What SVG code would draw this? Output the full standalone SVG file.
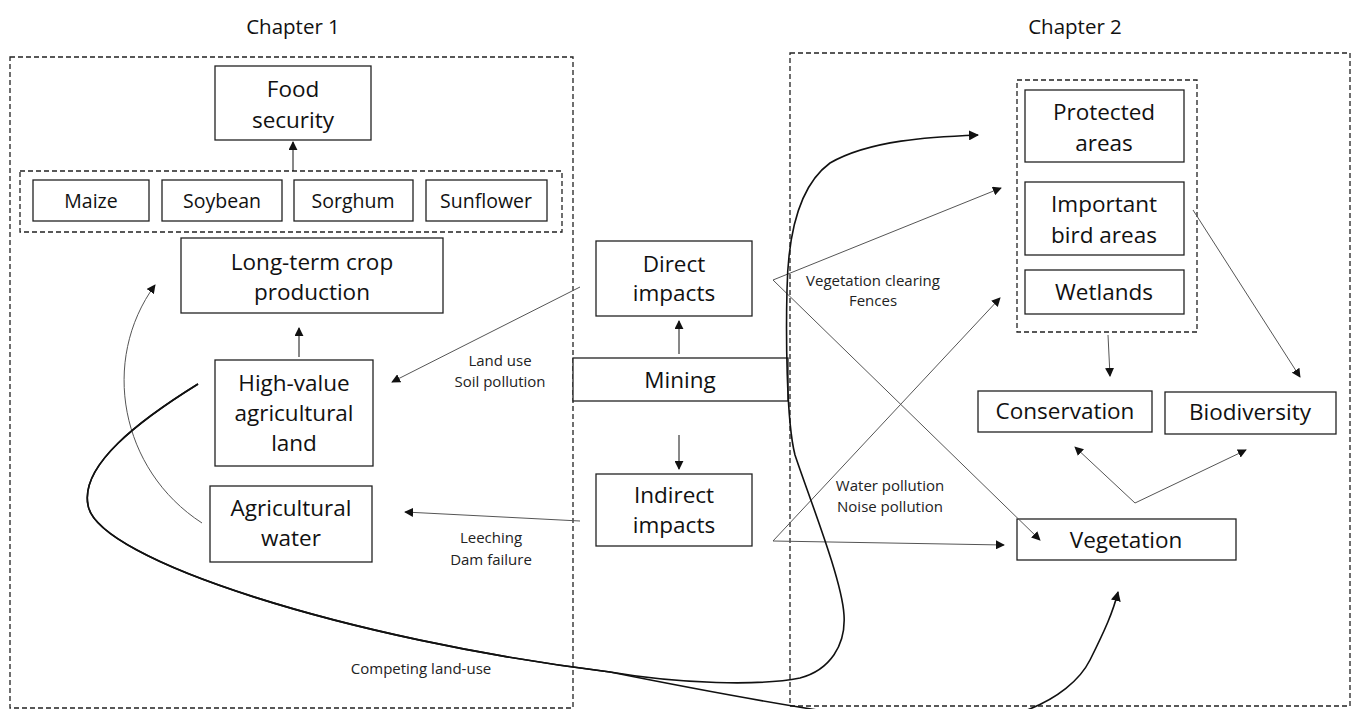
<svg xmlns="http://www.w3.org/2000/svg" width="1355" height="709" viewBox="0 0 1355 709">
<defs>
<style>
.box{fill:#fff;stroke:#222;stroke-width:1.3}
.dash{fill:none;stroke:#222;stroke-width:1.3;stroke-dasharray:5,3}
.t{font-family:"Open Sans","Liberation Sans",sans-serif;font-size:22.5px;fill:#111;text-anchor:middle}
.s{font-family:"Open Sans","Liberation Sans",sans-serif;font-size:19.5px;fill:#111;text-anchor:middle}
.l{font-family:"Open Sans","Liberation Sans",sans-serif;font-size:15px;fill:#222;text-anchor:middle}
.h{font-family:"Open Sans","Liberation Sans",sans-serif;font-size:20.5px;fill:#111;text-anchor:middle}
.thin{fill:none;stroke:#555;stroke-width:1}
.blk{fill:none;stroke:#111;stroke-width:1}
.thick{fill:none;stroke:#111;stroke-width:1.6}
</style>
<marker id="a" viewBox="0 0 10 10" refX="9" refY="5" markerWidth="9" markerHeight="9" markerUnits="userSpaceOnUse" orient="auto"><path d="M0,0 L10,5 L0,10 z" fill="#111"/></marker>
<marker id="b" viewBox="0 0 10 10" refX="9" refY="5" markerWidth="10" markerHeight="10" markerUnits="userSpaceOnUse" orient="auto"><path d="M0,0 L10,5 L0,10 z" fill="#111"/></marker>
</defs>
<rect width="1355" height="709" fill="#fff"/>

<g id="chapter1">
<rect class="dash" x="10" y="57" width="563" height="651"/>
<text class="h" x="293" y="34">Chapter 1</text>
</g>
<g id="chapter2">
<rect class="dash" x="790" y="53" width="560" height="653"/>
<text class="h" x="1075" y="34">Chapter 2</text>
</g>

<g id="food-security"><rect class="box" x="215" y="66" width="156" height="74"/><text class="t" x="293" y="97">Food</text><text class="t" x="293" y="128">security</text></g>
<g id="crops"><rect class="dash" x="20" y="171" width="542" height="61"/></g>
<g id="maize"><rect class="box" x="33" y="180" width="116" height="41"/><text class="s" x="91" y="208">Maize</text></g>
<g id="soybean"><rect class="box" x="162" y="180" width="120" height="41"/><text class="s" x="222" y="208">Soybean</text></g>
<g id="sorghum"><rect class="box" x="294" y="180" width="119" height="41"/><text class="s" x="353" y="208">Sorghum</text></g>
<g id="sunflower"><rect class="box" x="426" y="180" width="121" height="41"/><text class="s" x="486" y="208">Sunflower</text></g>
<g id="long-term"><rect class="box" x="181" y="238" width="262" height="75"/><text class="t" x="312" y="270">Long-term crop</text><text class="t" x="312" y="300">production</text></g>
<g id="high-value"><rect class="box" x="215" y="360" width="158" height="106"/><text class="t" x="294" y="391">High-value</text><text class="t" x="294" y="421">agricultural</text><text class="t" x="294" y="451">land</text></g>
<g id="agri-water"><rect class="box" x="210" y="486" width="162" height="76"/><text class="t" x="291" y="516">Agricultural</text><text class="t" x="291" y="546">water</text></g>

<g id="direct"><rect class="box" x="596" y="241" width="156" height="75"/><text class="t" x="674" y="272">Direct</text><text class="t" x="674" y="301">impacts</text></g>
<g id="mining"><rect class="box" x="573" y="358" width="215" height="43"/><text class="t" x="680" y="388">Mining</text></g>
<g id="indirect"><rect class="box" x="596" y="474" width="156" height="72"/><text class="t" x="674" y="503">Indirect</text><text class="t" x="674" y="533">impacts</text></g>

<g id="sites"><rect class="dash" x="1017" y="80" width="180" height="252"/></g>
<g id="protected"><rect class="box" x="1025" y="90" width="159" height="72"/><text class="t" x="1104" y="120">Protected</text><text class="t" x="1104" y="151">areas</text></g>
<g id="iba"><rect class="box" x="1025" y="182" width="159" height="73"/><text class="t" x="1104" y="212">Important</text><text class="t" x="1104" y="243">bird areas</text></g>
<g id="wetlands"><rect class="box" x="1025" y="270" width="159" height="44"/><text class="t" x="1104" y="300">Wetlands</text></g>
<g id="conservation"><rect class="box" x="978" y="391" width="174" height="41"/><text class="t" x="1065" y="419">Conservation</text></g>
<g id="biodiversity"><rect class="box" x="1165" y="392" width="171" height="42"/><text class="t" x="1250" y="420">Biodiversity</text></g>
<g id="vegetation"><rect class="box" x="1017" y="519" width="219" height="41"/><text class="t" x="1126" y="548">Vegetation</text></g>

<g id="connectors">
<path class="blk" d="M293,171 L293,142" marker-end="url(#a)"/>
<path class="blk" d="M299,357 L299,328" marker-end="url(#a)"/>
<path class="blk" d="M679,354 L679,321" marker-end="url(#a)"/>
<path class="blk" d="M679,435 L679,469" marker-end="url(#a)"/>
<path class="thin" d="M202,523 C120,470 100,360 155,285" marker-end="url(#a)"/>
<path class="thin" d="M580,287 L392,382" marker-end="url(#a)"/>
<path class="thin" d="M580,521 L405,512" marker-end="url(#a)"/>
<path class="thin" d="M773,280 L1001,188" marker-end="url(#a)"/>
<path class="thin" d="M773,280 L1040,540" marker-end="url(#a)"/>
<path class="thin" d="M773,541 L1000,298" marker-end="url(#a)"/>
<path class="thin" d="M773,541 L1004,545" marker-end="url(#a)"/>
<path class="thin" d="M1108,335 L1110,376" marker-end="url(#a)"/>
<path class="thin" d="M1193,210 L1300,377" marker-end="url(#a)"/>
<path class="thin" d="M1135,503 L1075,447" marker-end="url(#a)"/>
<path class="thin" d="M1135,503 L1246,450" marker-end="url(#a)"/>
<path class="thick" d="M198,384 C140,420 80,465 88,505 C96,560 350,640 610,672 C680,684 760,686 800,678 C830,670 846,645 844,615 C842,580 810,500 795,455 C786,420 786,330 787,290 C788,230 800,185 830,163 C870,140 930,137 978,135" marker-end="url(#b)"/>
<path class="thick" d="M198,384 C140,420 80,465 88,505 C96,560 350,640 610,672 C700,690 820,712 900,722 C1000,735 1070,700 1090,660 C1105,630 1113,612 1118,592" marker-end="url(#b)"/>
<text class="l" x="500" y="366">Land use</text>
<text class="l" x="500" y="387">Soil pollution</text>
<text class="l" x="491" y="543">Leeching</text>
<text class="l" x="491" y="565">Dam failure</text>
<text class="l" x="873" y="286">Vegetation clearing</text>
<text class="l" x="873" y="306">Fences</text>
<text class="l" x="890" y="491">Water pollution</text>
<text class="l" x="890" y="512">Noise pollution</text>
<text class="l" x="421" y="674">Competing land-use</text>
</g>
</svg>
